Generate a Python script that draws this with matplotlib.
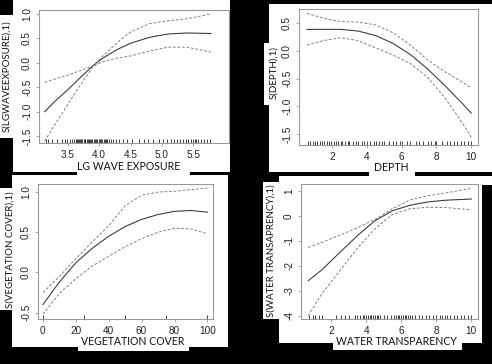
import matplotlib
matplotlib.use("Agg")
import matplotlib.pyplot as plt
from matplotlib.patches import Rectangle
from matplotlib.ticker import FormatStrFormatter

W, H = 492, 364

# --- data ----------------------------------------------------------------
wave_x = [3.13, 3.3, 3.5, 3.7, 3.9, 4.0, 4.1, 4.3, 4.5, 4.8, 5.1, 5.4, 5.78]
wave_fit = [-1.0, -0.78, -0.55, -0.3, -0.06, 0.04, 0.13, 0.28, 0.4, 0.52, 0.59, 0.61, 0.6]
wave_up = [-0.4, -0.33, -0.25, -0.16, -0.06, 0.06, 0.19, 0.43, 0.63, 0.8, 0.86, 0.9, 1.0]
wave_lo = [-1.6, -1.25, -0.85, -0.45, -0.08, -0.01, 0.04, 0.1, 0.14, 0.24, 0.32, 0.32, 0.22]
wave_rug = [3.15, 3.19, 3.24, 3.32, 3.40, 3.45, 3.48, 3.53, 3.56, 3.60, 3.63, 3.64,
            3.66, 3.68, 3.70, 3.71, 3.73, 3.75, 3.77, 3.78, 3.80, 3.82, 3.84, 3.86,
            3.87, 3.89, 3.91, 3.93, 3.95, 3.97, 3.99, 4.01, 4.03, 4.05, 4.07, 4.09,
            4.11, 4.13, 4.16, 4.19, 4.22, 4.27, 4.32, 4.38, 4.44, 4.52, 4.63, 4.72,
            4.78, 4.86, 4.95, 5.02, 5.08, 5.14, 5.2, 5.24, 5.29, 5.33, 5.38, 5.42,
            5.46, 5.49, 5.52, 5.55, 5.58, 5.62, 5.67, 5.72, 5.77]

depth_x = [0.56, 1.5, 2.5, 3.5, 4.5, 5.5, 6.5, 7.5, 8.5, 9.5, 10.0]
depth_fit = [0.38, 0.38, 0.38, 0.35, 0.27, 0.13, -0.07, -0.33, -0.63, -0.95, -1.12]
depth_up = [0.67, 0.58, 0.52, 0.51, 0.46, 0.32, 0.1, -0.17, -0.38, -0.57, -0.67]
depth_lo = [0.1, 0.18, 0.23, 0.18, 0.05, -0.08, -0.23, -0.48, -0.85, -1.3, -1.55]
depth_rug = [0.6, 0.75, 0.9, 1.0, 1.15, 1.3, 1.4, 1.55, 1.7, 1.8, 1.95, 2.1, 2.2,
             2.35, 2.5, 2.6, 2.75, 2.9, 3.0, 3.2, 3.4, 3.5, 3.7, 3.85, 4.0, 4.2,
             4.4, 4.5, 4.7, 4.9, 5.0, 5.25, 5.5, 5.7, 5.9, 6.0, 6.3, 6.5, 6.8, 7.0,
             7.2, 7.5, 7.7, 7.9, 8.0, 8.3, 8.6, 8.8, 9.0, 9.2, 9.4, 9.6, 9.8, 10.0]

veg_x = [0, 10, 20, 30, 40, 50, 60, 70, 80, 90, 100]
veg_fit = [-0.4, -0.12, 0.12, 0.3, 0.45, 0.57, 0.66, 0.72, 0.76, 0.77, 0.75]
veg_up = [-0.25, -0.05, 0.17, 0.38, 0.58, 0.83, 0.96, 1.0, 1.01, 1.03, 1.05]
veg_lo = [-0.52, -0.26, -0.08, 0.08, 0.2, 0.32, 0.42, 0.5, 0.55, 0.54, 0.48]
veg_rug = [0, 25, 50, 75, 100]

transp_x = [0.7, 1.5, 2.5, 3.5, 4.5, 5.5, 6.5, 7.5, 8.5, 10.0]
transp_fit = [-2.6, -2.15, -1.47, -0.8, -0.2, 0.2, 0.42, 0.55, 0.62, 0.67]
transp_up = [-1.27, -1.06, -0.78, -0.48, -0.15, 0.28, 0.63, 0.8, 0.91, 1.09]
transp_lo = [-4.0, -3.1, -2.2, -1.3, -0.52, 0.05, 0.28, 0.34, 0.33, 0.24]
transp_rug = [0.75, 0.95, 1.1, 1.3, 1.5, 2.3, 2.55, 2.8, 3.0, 3.35, 3.5, 3.65, 3.8,
              3.9, 4.0, 4.1, 4.2, 4.3, 4.4, 4.5, 4.6, 4.7, 4.8, 5.0, 5.2, 5.4, 5.6,
              5.7, 5.8, 5.9, 6.0, 6.1, 6.2, 6.3, 6.4, 6.5, 6.6, 6.8, 7.0, 7.2, 7.4,
              7.6, 7.8, 8.0, 8.2, 8.3, 8.5, 8.6, 8.8, 9.0, 9.2, 9.4, 9.6, 9.8, 10.0]

fig = plt.figure(figsize=(W / 100, H / 100), dpi=100)
fig.patch.set_facecolor("black")


def white_box(x0, y0, x1, y1):
    # pixel box (top-left origin) -> white patch in figure coords
    fig.patches.append(Rectangle((x0 / W, 1 - y1 / H), (x1 - x0) / W, (y1 - y0) / H,
                                 transform=fig.transFigure, facecolor="white",
                                 edgecolor="none", zorder=-5))


def px_axes(x0, y0, x1, y1):
    return fig.add_axes([x0 / W, 1 - y1 / H, (x1 - x0) / W, (y1 - y0) / H])


# white paper pieces pasted on the black page
for box in [(13, 0, 230, 172), (0, 15, 13, 138), (77, 165, 190, 176),
            (269, 4, 492, 172), (264, 43, 269, 105), (369, 165, 415, 176),
            (12, 175, 228, 347), (0, 188, 12, 310), (78, 340, 189, 351),
            (279, 176, 482, 343), (263, 182, 279, 319), (333, 338, 462, 350),
            (482, 176, 492, 185)]:
    white_box(*box)


def draw_panel(ax, x, fit, up, lo, rug, xlim, ylim, xticks, yticks, xfmt, yfmt,
               xlabel, ylabel, xlab_at, ylab_at):
    ax.plot(x, fit, color="#333333", lw=0.75)
    ax.plot(x, up, color="#777777", lw=0.65, ls=(0, (3, 2)))
    ax.plot(x, lo, color="#777777", lw=0.65, ls=(0, (3, 2)))
    ax.vlines(rug, 0, 0.03, transform=ax.get_xaxis_transform(), color="#222222", lw=0.6)
    ax.set_xlim(*xlim)
    ax.set_ylim(*ylim)
    ax.set_xticks(xticks)
    ax.set_yticks(yticks)
    ax.xaxis.set_major_formatter(FormatStrFormatter(xfmt))
    ax.yaxis.set_major_formatter(FormatStrFormatter(yfmt))
    ax.tick_params(direction="out", length=2, width=0.5, color="#888888",
                   labelsize=7.2, labelcolor="#222222", pad=3)
    for lbl in ax.get_xticklabels() + ax.get_yticklabels():
        lbl.set_family("Liberation Sans")
    for lbl in ax.get_yticklabels():
        lbl.set_rotation(90)
        lbl.set_va("center")
    for s in ax.spines.values():
        s.set_color("#999999")
        s.set_linewidth(0.8)
    ax.set_xlabel(xlabel, family="Lato", fontsize=7.6, color="#111111")
    ax.set_ylabel(ylabel, family="Lato", fontsize=7.0, color="#111111")
    ax.xaxis.label.set_va("center")
    ax.yaxis.label.set_va("center")
    ax.xaxis.set_label_coords(*xlab_at)
    ax.yaxis.set_label_coords(*ylab_at)


ax1 = px_axes(39, 10, 229, 143)
draw_panel(ax1, wave_x, wave_fit, wave_up, wave_lo, wave_rug,
           (3.04, 6.07), (-1.64, 1.08), [3.5, 4.0, 4.5, 5.0, 5.5],
           [-1.5, -1.0, -0.5, 0.0, 0.5, 1.0], "%.1f", "%.1f",
           "LG WAVE EXPOSURE", "S(LGWAVEEXPOSURE),1)", (0.474, -0.18), (-0.168, 0.504))

ax2 = px_axes(299, 9, 478, 145)
draw_panel(ax2, depth_x, depth_fit, depth_up, depth_lo, depth_rug,
           (0.10, 10.39), (-1.69, 0.745), [2, 4, 6, 8, 10],
           [-1.5, -1.0, -0.5, 0.0, 0.5], "%d", "%.1f",
           "DEPTH", "S(DEPTH),1)", (0.514, -0.169), (-0.14, 0.53))

ax3 = px_axes(38, 184, 213, 319)
draw_panel(ax3, veg_x, veg_fit, veg_up, veg_lo, veg_rug,
           (-3.0, 103.4), (-0.58, 1.10), [0, 20, 40, 60, 80, 100],
           [-0.5, 0.0, 0.5, 1.0], "%d", "%.1f",
           "VEGETATION COVER", "S(VEGETATION COVER),1)", (0.54, -0.17), (-0.16, 0.515))

ax4 = px_axes(301, 184, 478, 319)
draw_panel(ax4, transp_x, transp_fit, transp_up, transp_lo, transp_rug,
           (0.29, 10.38), (-4.13, 1.27), [2, 4, 6, 8, 10],
           [-4, -3, -2, -1, 0, 1], "%d", "%d",
           "WATER TRANSPARENCY", "S(WATER TRANSAPRENCY),1)", (0.542, -0.17), (-0.17, 0.504))

fig.savefig("out.png", dpi=100, facecolor=fig.get_facecolor())
